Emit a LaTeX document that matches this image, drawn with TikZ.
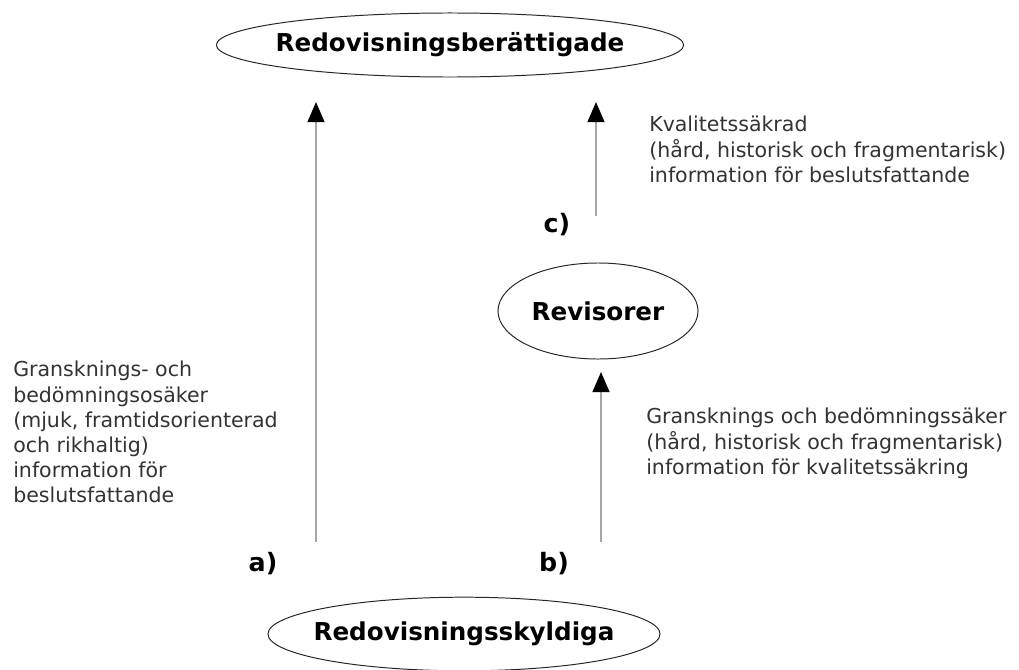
\documentclass[tikz,border=0pt]{standalone}
\usepackage{fontspec}
\setmainfont{DejaVu Sans}
\usetikzlibrary{arrows.meta}

\begin{document}
\begin{tikzpicture}[x=0.025cm, y=-0.025cm,
    party/.style={
        inner sep=0pt,
        font=\bfseries\fontsize{17.5}{20}\selectfont
    },
    rim/.style={
        draw=black!85,
        line width=0.7pt
    },
    flow/.style={
        draw=gray!70,
        line width=1.2pt,
        -{Triangle[width=0.42cm,length=0.5cm,color=black]}
    },
    tag/.style={
        font=\bfseries\fontsize{18}{20}\selectfont
    },
    note/.style={
        anchor=north west,
        align=left,
        inner sep=0pt,
        text=black!80,
        font=\fontsize{14.6}{17.9}\selectfont
    }
]
\useasboundingbox (0,0) rectangle (1019,670);

%%%%%%%%%%%%%%%%%%%%%%%%
% Parter
%%%%%%%%%%%%%%%%%%%%%%%%

\node[party] (berattigade) at (450,45) {Redovisningsberättigade};
\draw[rim] (berattigade.center) ellipse [x radius=5.84cm, y radius=0.8cm];

\node[party] (revisorer) at (598,311) {Revisorer};
\draw[rim] (revisorer.center) ellipse [x radius=2.5cm, y radius=1.2cm];

\node[party] (skyldiga) at (464,634) {Redovisningsskyldiga};
\draw[rim] (skyldiga.center) ellipse [x radius=4.9cm, y radius=0.92cm];

%%%%%%%%%%%%%%%%%%%%%%%%
% Flöden
%%%%%%%%%%%%%%%%%%%%%%%%

% --- a) ---
\coordinate (aStart) at (316,542);
\coordinate (aEnd) at (316,102);
\draw[flow] (aStart) -- (aEnd);
\node[tag] (aTag) at (263,564) {a)};

% --- b) ---
\coordinate (bStart) at (601,542);
\coordinate (bEnd) at (601,372);
\draw[flow] (bStart) -- (bEnd);
\node[tag] (bTag) at (554,564) {b)};

% --- c) ---
\coordinate (cStart) at (596,216);
\coordinate (cEnd) at (596,102);
\draw[flow] (cStart) -- (cEnd);
\node[tag] (cTag) at (557,225) {c)};

%%%%%%%%%%%%%%%%%%%%%%%%
% Texter
%%%%%%%%%%%%%%%%%%%%%%%%

\node[note] (aNote) at (13,361) {Gransknings- och\\bedömningsosäker\\(mjuk, framtidsorienterad\\och rikhaltig)\\information för\\beslutsfattande};
\node[note] (bNote) at (646,408) {Gransknings och bedömningssäker\\(hård, historisk och fragmentarisk)\\information för kvalitetssäkring};
\node[note] (cNote) at (649,116) {Kvalitetssäkrad\\(hård, historisk och fragmentarisk)\\information för beslutsfattande};

\end{tikzpicture}
\end{document}
